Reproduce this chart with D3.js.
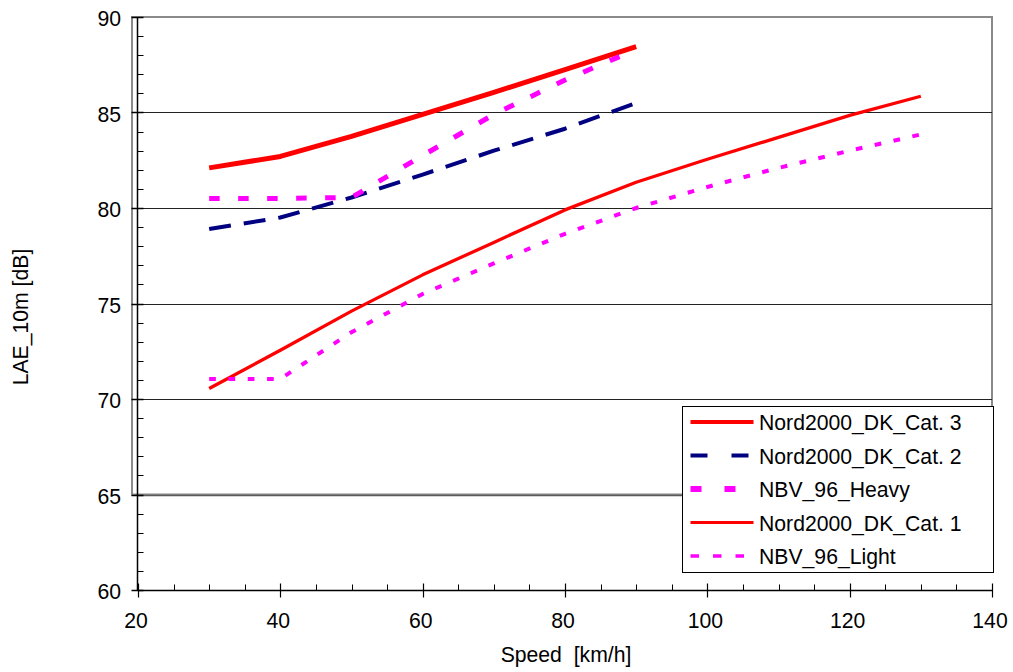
<!DOCTYPE html>
<html>
<head>
<meta charset="utf-8">
<script src="https://cdn.jsdelivr.net/npm/d3@7"></script>
<style>
  html, body { margin: 0; padding: 0; background: #fff; }
  text { font-family: Arial, "Liberation Sans", sans-serif; fill: #000; }
</style>
</head>
<body>
<svg id="chart" width="1013" height="672"></svg>
<script>
// Speeds (km/h) for the two groups of curves
const speedsShort = [30, 40, 50, 60, 70, 80, 90];
const speedsLong = [30, 40, 50, 60, 70, 80, 90, 100, 110, 120, 130];

// LAE_10m values (dB)
const nordCat3 = [82.1, 82.7, 83.75, 84.9, 86.05, 87.25, 88.45];
const nordCat2 = [78.9, 79.5, 80.55, 81.75, 83.0, 84.15, 85.5];
const nbvHeavy = [80.5, 80.5, 80.55, 82.75, 84.9, 86.7, 88.3];
const nordCat1 = [70.55, 72.55, 74.6, 76.5, 78.2, 79.9, 81.35, 82.55, 83.7, 84.85, 85.85];
const nbvLight = [71.05, 71.05, 73.5, 75.5, 77.1, 78.65, 80.0, 81.1, 82.1, 83.0, 83.85];

const xTicks = [20, 40, 60, 80, 100, 120, 140];
const yTicks = [60, 65, 70, 75, 80, 85, 90];
const seriesNames = ["Nord2000_DK_Cat. 3", "Nord2000_DK_Cat. 2", "NBV_96_Heavy", "Nord2000_DK_Cat. 1", "NBV_96_Light"];

const series = [
  { name: seriesNames[0], xs: speedsShort, ys: nordCat3, color: "#ff0000", width: 5, dash: null, legendWidth: 4, legendDash: null },
  { name: seriesNames[1], xs: speedsShort, ys: nordCat2, color: "#000080", width: 4, dash: "22,13", legendWidth: 4, legendDash: "17,24" },
  { name: seriesNames[2], xs: speedsShort, ys: nbvHeavy, color: "#ff00ff", width: 5, dash: "10.5,18.5", legendWidth: 6, legendDash: "11,23" },
  { name: seriesNames[3], xs: speedsLong, ys: nordCat1, color: "#ff0000", width: 3.3, dash: null, legendWidth: 3, legendDash: null },
  { name: seriesNames[4], xs: speedsLong, ys: nbvLight, color: "#ff00ff", width: 4, dash: "6.7,12.6", legendWidth: 3.5, legendDash: "8.5,14" }
];

const fontSize = 21.2;
const svg = d3.select("#chart");
svg.append("rect").attr("width", 1013).attr("height", 672).attr("fill", "#fff");

const plotLeft = 138, plotRight = 992, plotTop = 17, plotBottom = 590;
const x = d3.scaleLinear().domain([20, 140]).range([plotLeft, plotRight]);
const y = d3.scaleLinear().domain([60, 90]).range([plotBottom, plotTop]);

// Gray frame behind the upper part of the plot
svg.append("rect")
  .attr("x", 132).attr("y", y(90))
  .attr("width", x(140) - 132).attr("height", y(65) - y(90))
  .attr("fill", "none").attr("stroke", "#8a8a8a").attr("stroke-width", 2);

// Horizontal gridlines
svg.append("g").selectAll("line")
  .data(yTicks.filter(v => v > 60 && v < 90))
  .join("line")
  .attr("x1", x(20)).attr("x2", x(140))
  .attr("y1", d => Math.round(y(d)) + 0.5).attr("y2", d => Math.round(y(d)) + 0.5)
  .attr("stroke", d => d === 65 ? "#5a5a5a" : "#222")
  .attr("stroke-width", d => d === 65 ? 1.6 : 1);

// Y axis: major ticks crossing the axis, minor ticks inside every 1 dB
const yAxis = svg.append("g").attr("transform", `translate(${Math.round(x(20)) - 0.5},0)`);
yAxis.append("line").attr("y1", y(90)).attr("y2", y(60)).attr("stroke", "#000").attr("stroke-width", 1.5);
yAxis.selectAll("line.minor")
  .data(d3.range(60, 91, 1).filter(v => v % 5 !== 0))
  .join("line").attr("class", "minor")
  .attr("x1", 0).attr("x2", 6)
  .attr("y1", d => Math.round(y(d)) + 0.5).attr("y2", d => Math.round(y(d)) + 0.5)
  .attr("stroke", "#000");
yAxis.selectAll("line.major")
  .data(yTicks)
  .join("line").attr("class", "major")
  .attr("x1", -6).attr("x2", 6)
  .attr("y1", d => Math.round(y(d)) + 0.5).attr("y2", d => Math.round(y(d)) + 0.5)
  .attr("stroke", "#000").attr("stroke-width", 1.5);
svg.append("g").selectAll("text")
  .data(yTicks).join("text")
  .attr("x", 121).attr("y", d => y(d) + 9)
  .attr("text-anchor", "end").attr("font-size", fontSize)
  .text(d => d);

// X axis: major ticks crossing the axis, minor ticks inside every 5 km/h
const xAxis = svg.append("g").attr("transform", `translate(0,${Math.round(y(60)) + 0.5})`);
xAxis.append("line").attr("x1", x(20)).attr("x2", x(140)).attr("stroke", "#000").attr("stroke-width", 1.5);
xAxis.selectAll("line.minor")
  .data(d3.range(20, 141, 5).filter(v => v % 20 !== 0))
  .join("line").attr("class", "minor")
  .attr("x1", d => Math.round(x(d)) + 0.5).attr("x2", d => Math.round(x(d)) + 0.5)
  .attr("y1", 0).attr("y2", -6)
  .attr("stroke", "#000");
xAxis.selectAll("line.major")
  .data(xTicks).join("line").attr("class", "major")
  .attr("x1", d => Math.round(x(d)) + 0.5).attr("x2", d => Math.round(x(d)) + 0.5)
  .attr("y1", -7).attr("y2", 7)
  .attr("stroke", "#000").attr("stroke-width", 1.2);
svg.append("g").selectAll("text")
  .data(xTicks).join("text")
  .attr("x", d => x(d) - 2).attr("y", 628)
  .attr("text-anchor", "middle").attr("font-size", fontSize)
  .text(d => d);

// Axis titles
svg.append("text")
  .attr("x", 566).attr("y", 662)
  .attr("text-anchor", "middle").attr("font-size", fontSize)
  .attr("xml:space", "preserve")
  .text("Speed  [km/h]");
svg.append("text")
  .attr("transform", "translate(28,317) rotate(-90)")
  .attr("text-anchor", "middle").attr("font-size", fontSize)
  .text("LAE_10m [dB]");

// Data curves
const line = d3.line().x(d => x(d[0])).y(d => y(d[1]));
svg.append("g").selectAll("path")
  .data(series).join("path")
  .attr("d", s => line(s.xs.map((v, i) => [v, s.ys[i]])))
  .attr("fill", "none")
  .attr("stroke", s => s.color)
  .attr("stroke-width", s => s.width)
  .attr("stroke-dasharray", s => s.dash)
  .attr("stroke-linejoin", "round");

// Legend
const legend = svg.append("g");
legend.append("rect")
  .attr("x", 682.5).attr("y", 406.5).attr("width", 311).attr("height", 166)
  .attr("fill", "#fff").attr("stroke", "#000").attr("stroke-width", 1);
const rows = legend.selectAll("g.row")
  .data(series).join("g").attr("class", "row")
  .attr("transform", (d, i) => `translate(0,${422 + i * 33.5})`);
rows.append("line")
  .attr("x1", 690.5).attr("x2", 753.5).attr("y1", 0).attr("y2", 0)
  .attr("stroke", s => s.color)
  .attr("stroke-width", s => s.legendWidth)
  .attr("stroke-dasharray", s => s.legendDash);
rows.append("text")
  .attr("x", 759).attr("y", 8)
  .attr("font-size", fontSize)
  .text(s => s.name);
</script>
</body>
</html>
